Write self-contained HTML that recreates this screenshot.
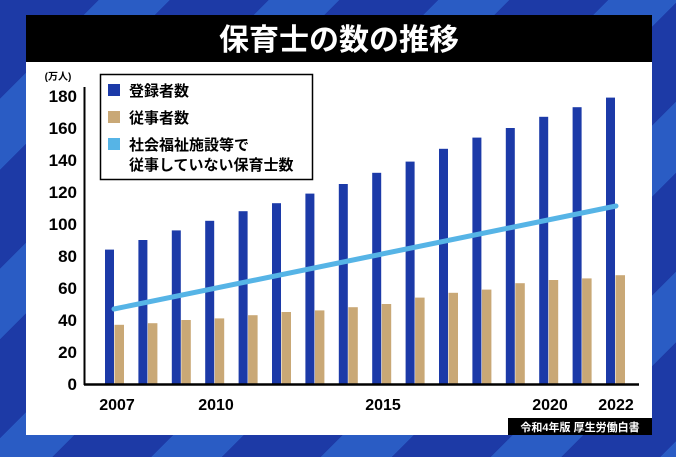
<!DOCTYPE html>
<html><head><meta charset="utf-8"><style>
body{margin:0;width:676px;height:457px;overflow:hidden;
background:repeating-linear-gradient(135deg,#1d3aa6 0px,#1d3aa6 70px,#2a5cc4 70px,#2a5cc4 120px);}
text{font-family:"Liberation Sans","Noto Sans CJK JP",sans-serif;font-weight:bold;}
</style></head><body>
<svg width="676" height="457" style="position:absolute;left:0;top:0">
<rect x="26" y="15" width="626" height="420" fill="#fff"/>
<rect x="26" y="15" width="626" height="47" fill="#000"/>
<text x="339" y="50" text-anchor="middle" fill="#fff" font-size="30">保育士の数の推移</text>
<text x="58" y="80" text-anchor="middle" font-size="10" fill="#000">(万人)</text>
<g font-size="17" text-anchor="end" fill="#000">
<text x="77" y="102">180</text><text x="77" y="134">160</text><text x="77" y="166">140</text>
<text x="77" y="198">120</text><text x="77" y="230">100</text><text x="77" y="262">80</text>
<text x="77" y="294">60</text><text x="77" y="326">40</text><text x="77" y="358">20</text>
<text x="77" y="390">0</text></g>
<g id="bars"></g>
<line x1="84.5" y1="87" x2="84.5" y2="385" stroke="#000" stroke-width="2"/>
<line x1="84" y1="384.5" x2="639" y2="384.5" stroke="#000" stroke-width="2.5"/>
<line x1="114" y1="309" x2="616" y2="206" stroke="#56b4e6" stroke-width="5" stroke-linecap="round"/>
<g font-size="16" text-anchor="middle" fill="#000">
<text x="117" y="410">2007</text><text x="216" y="410">2010</text><text x="383" y="410">2015</text>
<text x="550" y="410">2020</text><text x="616" y="410">2022</text></g>
<rect x="100.5" y="74.5" width="212" height="105" fill="#fff" stroke="#000" stroke-width="1.5"/>
<rect x="108" y="84" width="12" height="12" fill="#1c3aa8"/>
<rect x="108" y="111" width="12" height="12" fill="#c9a876"/>
<rect x="108" y="138" width="12" height="12" fill="#56b4e6"/>
<g font-size="15" fill="#000">
<text x="129" y="96">登録者数</text><text x="129" y="123">従事者数</text>
<text x="129" y="150">社会福祉施設等で</text><text x="129" y="170">従事していない保育士数</text></g>
<rect x="508" y="418" width="144" height="17" fill="#000"/>
<text x="580" y="431" text-anchor="middle" fill="#fff" font-size="11">令和4年版 厚生労働白書</text>
</svg>
<script>
var b=[84,90,96,102,108,113,119,125,132,139,147,154,160,167,173,179],
t=[37,38,40,41,43,45,46,48,50,54,57,59,63,65,66,68],s='';
for(var i=0;i<16;i++){var x=105+i*33.4;
s+='<rect x="'+x+'" y="'+(384-b[i]*1.6)+'" width="9" height="'+(b[i]*1.6)+'" fill="#1c3aa8"/>';
s+='<rect x="'+(x+9.5)+'" y="'+(384-t[i]*1.6)+'" width="9.5" height="'+(t[i]*1.6)+'" fill="#c9a876"/>';}
document.getElementById('bars').innerHTML=s;
</script>
</body></html>
